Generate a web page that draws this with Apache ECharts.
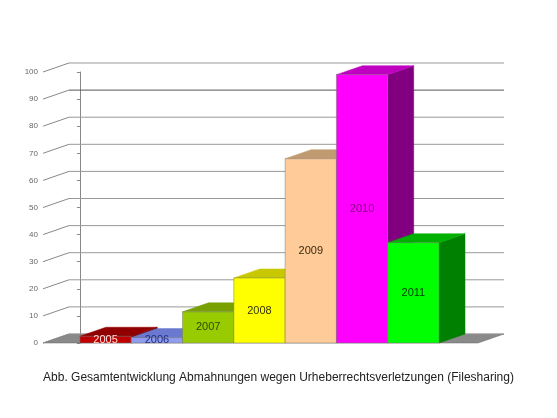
<!DOCTYPE html>
<html><head><meta charset="utf-8">
<script src="https://cdn.jsdelivr.net/npm/echarts@6/dist/echarts.min.js"></script>
<style>body{margin:0;background:#fff}#c{width:557px;height:418px}</style>
</head><body><div id="c"></div>
<script>
var years = ['2005', '2006', '2007', '2008', '2009', '2010', '2011'];
var values = [2.5, 2, 11.5, 24, 68, 99, 37];
var yTicks = [0, 10, 20, 30, 40, 50, 60, 70, 80, 90, 100];
var fronts = ['#c00000', '#8f9cf0', '#99cc00', '#ffff00', '#ffcc99', '#ff00ff', '#00ff00'];
var tops = ['#900000', '#6a78d0', '#77a000', '#c8c800', '#c09a70', '#c000c0', '#00b000'];
var sides = ['#700000', '#5060b0', '#5a8000', '#a0a000', '#a08060', '#800080', '#008000'];
var labelColors = ['#ffdddd', '#203080', '#2a4a00', '#333300', '#3a2a10', '#800080', '#004000'];

var DX = 26, DY = -9;
var chart = echarts.init(document.getElementById('c'));

function poly(pts, fill, stroke) {
    return { type: 'polygon', shape: { points: pts }, style: { fill: fill, stroke: stroke || fill, lineWidth: 0.5 } };
}

var option = {
    animation: false,
    grid: { left: 43, right: 79, top: 72, bottom: 75 },
    xAxis: { type: 'value', min: -0.72, max: 7.76, show: false },
    yAxis: {
        type: 'value', min: 0, max: 100, interval: 10,
        axisLine: { show: true, lineStyle: { color: '#888' } },
        axisTick: { show: true, length: 3, lineStyle: { color: '#888' } },
        axisLabel: { fontSize: 8, color: '#666', fontFamily: 'Arial', margin: 5 },
        splitLine: { show: false }
    },
    series: [
        {
            // floor + back grid
            type: 'custom',
            data: yTicks.map(function (t) { return [t]; }),
            encode: { y: 0 },
            renderItem: function (params, api) {
                var t = api.value(0);
                var a = api.coord([-0.72, t]);
                var b = api.coord([7.76, t]);
                var children = [
                    { type: 'line', shape: { x1: a[0], y1: a[1], x2: a[0] + DX, y2: a[1] + DY }, style: { stroke: '#888', lineWidth: 1 } },
                    { type: 'line', shape: { x1: a[0] + DX, y1: a[1] + DY, x2: b[0] + DX, y2: b[1] + DY }, style: { stroke: t === 90 ? '#555' : '#999', lineWidth: 1 } }
                ];
                if (t === 0) {
                    children.unshift(poly([[a[0], a[1]], [b[0], b[1]], [b[0] + DX, b[1] + DY], [a[0] + DX, a[1] + DY]], '#8a8a8a', '#666'));
                }
                return { type: 'group', children: children };
            }
        },
        {
            type: 'custom',
            data: values.map(function (v, i) { return [i, v]; }),
            encode: { x: 0, y: 1 },
            renderItem: function (params, api) {
                var i = api.value(0), v = api.value(1);
                var p0 = api.coord([i, 0]), p1 = api.coord([i + 1, v]);
                var x0 = p0[0], y0 = p0[1], x1 = p1[0], y1 = p1[1];
                var ly = api.coord([i, Math.max(v * 0.5, 0.7)])[1];
                return {
                    type: 'group',
                    children: [
                        poly([[x1, y0], [x1 + DX, y0 + DY], [x1 + DX, y1 + DY], [x1, y1]], sides[i]),
                        poly([[x0, y1], [x1, y1], [x1 + DX, y1 + DY], [x0 + DX, y1 + DY]], tops[i]),
                        poly([[x0, y0], [x1, y0], [x1, y1], [x0, y1]], fronts[i], '#777'),
                        {
                            type: 'text', x: (x0 + x1) / 2, y: ly,
                            style: { text: years[i], fill: labelColors[i], font: '11px Arial', align: 'center', verticalAlign: 'middle' }
                        }
                    ]
                };
            }
        }
    ],
    graphic: [{
        type: 'text', left: 'center', top: 372,
        style: { text: 'Abb. Gesamtentwicklung Abmahnungen wegen Urheberrechtsverletzungen (Filesharing)', font: '12px Arial', fill: '#222' }
    }]
};
chart.setOption(option);
</script>
</body></html>
